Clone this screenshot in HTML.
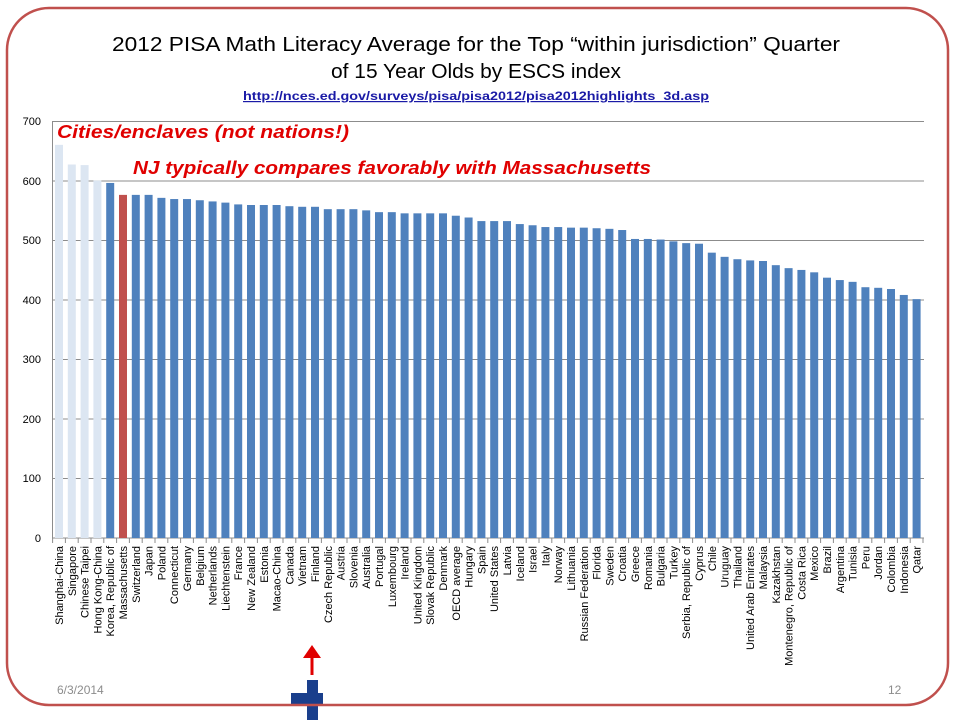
<!DOCTYPE html>
<html><head><meta charset="utf-8"><style>
html,body{margin:0;padding:0;background:#fff;}
svg{display:block;}
</style></head><body>
<svg width="960" height="720" viewBox="0 0 960 720" xmlns="http://www.w3.org/2000/svg" font-family="Liberation Sans, sans-serif">
<rect x="0" y="0" width="960" height="720" fill="#fff"/>
<!-- flag -->
<rect x="291" y="680" width="32" height="40" fill="#fff"/>
<rect x="291" y="693" width="32" height="12" fill="#1a3f8c"/>
<rect x="307" y="680" width="11" height="40" fill="#1a3f8c"/>
<!-- border -->
<rect x="7" y="8" width="941" height="697" rx="42" ry="42" fill="none" stroke="#c0504d" stroke-width="2.5"/>
<!-- title -->
<text x="476" y="51" font-size="20" text-anchor="middle" textLength="728" lengthAdjust="spacingAndGlyphs" fill="#000">2012 PISA Math Literacy Average for the Top “within jurisdiction” Quarter</text>
<text x="476" y="78" font-size="20" text-anchor="middle" textLength="290" lengthAdjust="spacingAndGlyphs" fill="#000">of 15 Year Olds by ESCS index</text>
<text x="476" y="100" font-size="12" font-weight="bold" text-anchor="middle" textLength="466" lengthAdjust="spacingAndGlyphs" fill="#1a1aa6" text-decoration="underline">http://nces.ed.gov/surveys/pisa/pisa2012/pisa2012highlights_3d.asp</text>
<!-- gridlines -->
<g stroke="#8c8c8c" stroke-width="1">
<line x1="52" y1="121.5" x2="924" y2="121.5"/>
<line x1="52" y1="181" x2="924" y2="181"/>
<line x1="52" y1="240.5" x2="924" y2="240.5"/>
<line x1="52" y1="300" x2="924" y2="300"/>
<line x1="52" y1="359.5" x2="924" y2="359.5"/>
<line x1="52" y1="419" x2="924" y2="419"/>
<line x1="52" y1="478.5" x2="924" y2="478.5"/>
<line x1="52" y1="538" x2="924" y2="538"/>
<line x1="52.5" y1="121" x2="52.5" y2="538"/>
</g>
<g font-size="11" fill="#000" text-anchor="end">
<text x="41" y="125">700</text><text x="41" y="185">600</text><text x="41" y="244">500</text><text x="41" y="304">400</text>
<text x="41" y="363">300</text><text x="41" y="423">200</text><text x="41" y="482">100</text><text x="41" y="542">0</text>
</g>
<!-- bars -->
<g transform="translate(0,538) scale(1,-0.5957)">
<g fill="#dce6f2">
<rect x="55" y="0" width="8" height="660"/>
<rect x="67.8" y="0" width="8" height="627"/>
<rect x="80.6" y="0" width="8" height="626"/>
<rect x="93.4" y="0" width="8" height="600"/>
</g>
<g fill="#4f81bd">
<rect x="106.2" y="0" width="8" height="596"/>
<rect x="119" y="0" width="8" height="576" fill="#c0504d"/>
<rect x="131.8" y="0" width="8" height="576"/>
<rect x="144.6" y="0" width="8" height="576"/>
<rect x="157.4" y="0" width="8" height="571"/>
<rect x="170.2" y="0" width="8" height="569"/>
<rect x="183" y="0" width="8" height="569"/>
<rect x="195.8" y="0" width="8" height="567"/>
<rect x="208.6" y="0" width="8" height="565"/>
<rect x="221.4" y="0" width="8" height="563"/>
<rect x="234.2" y="0" width="8" height="560"/>
<rect x="247" y="0" width="8" height="559"/>
<rect x="259.8" y="0" width="8" height="559"/>
<rect x="272.6" y="0" width="8" height="559"/>
<rect x="285.4" y="0" width="8" height="557"/>
<rect x="298.2" y="0" width="8" height="556"/>
<rect x="311" y="0" width="8" height="556"/>
<rect x="323.8" y="0" width="8" height="552"/>
<rect x="336.6" y="0" width="8" height="552"/>
<rect x="349.4" y="0" width="8" height="552"/>
<rect x="362.2" y="0" width="8" height="550"/>
<rect x="375" y="0" width="8" height="547"/>
<rect x="387.8" y="0" width="8" height="547"/>
<rect x="400.6" y="0" width="8" height="545"/>
<rect x="413.4" y="0" width="8" height="545"/>
<rect x="426.2" y="0" width="8" height="545"/>
<rect x="439" y="0" width="8" height="545"/>
<rect x="451.8" y="0" width="8" height="541"/>
<rect x="464.6" y="0" width="8" height="538"/>
<rect x="477.4" y="0" width="8" height="532"/>
<rect x="490.2" y="0" width="8" height="532"/>
<rect x="503" y="0" width="8" height="532"/>
<rect x="515.8" y="0" width="8" height="527"/>
<rect x="528.6" y="0" width="8" height="525"/>
<rect x="541.4" y="0" width="8" height="522"/>
<rect x="554.2" y="0" width="8" height="522"/>
<rect x="567" y="0" width="8" height="521"/>
<rect x="579.8" y="0" width="8" height="521"/>
<rect x="592.6" y="0" width="8" height="520"/>
<rect x="605.4" y="0" width="8" height="519"/>
<rect x="618.2" y="0" width="8" height="517"/>
<rect x="631" y="0" width="8" height="502"/>
<rect x="643.8" y="0" width="8" height="502"/>
<rect x="656.6" y="0" width="8" height="501"/>
<rect x="669.4" y="0" width="8" height="498"/>
<rect x="682.2" y="0" width="8" height="495"/>
<rect x="695" y="0" width="8" height="494"/>
<rect x="707.8" y="0" width="8" height="479"/>
<rect x="720.6" y="0" width="8" height="472"/>
<rect x="733.4" y="0" width="8" height="468"/>
<rect x="746.2" y="0" width="8" height="466"/>
<rect x="759" y="0" width="8" height="465"/>
<rect x="771.8" y="0" width="8" height="458"/>
<rect x="784.6" y="0" width="8" height="453"/>
<rect x="797.4" y="0" width="8" height="450"/>
<rect x="810.2" y="0" width="8" height="446"/>
<rect x="823" y="0" width="8" height="437"/>
<rect x="835.8" y="0" width="8" height="433"/>
<rect x="848.6" y="0" width="8" height="430"/>
<rect x="861.4" y="0" width="8" height="421"/>
<rect x="874.2" y="0" width="8" height="420"/>
<rect x="887" y="0" width="8" height="418"/>
<rect x="899.8" y="0" width="8" height="408"/>
<rect x="912.6" y="0" width="8" height="401"/>
</g>
</g>
<!-- x ticks -->
<path d="M52.6 538v5M65.4 538v5M78.2 538v5M91 538v5M103.8 538v5M116.6 538v5M129.4 538v5M142.2 538v5M155 538v5M167.8 538v5M180.6 538v5M193.4 538v5M206.2 538v5M219 538v5M231.8 538v5M244.6 538v5M257.4 538v5M270.2 538v5M283 538v5M295.8 538v5M308.6 538v5M321.4 538v5M334.2 538v5M347 538v5M359.8 538v5M372.6 538v5M385.4 538v5M398.2 538v5M411 538v5M423.8 538v5M436.6 538v5M449.4 538v5M462.2 538v5M475 538v5M487.8 538v5M500.6 538v5M513.4 538v5M526.2 538v5M539 538v5M551.8 538v5M564.6 538v5M577.4 538v5M590.2 538v5M603 538v5M615.8 538v5M628.6 538v5M641.4 538v5M654.2 538v5M667 538v5M679.8 538v5M692.6 538v5M705.4 538v5M718.2 538v5M731 538v5M743.8 538v5M756.6 538v5M769.4 538v5M782.2 538v5M795 538v5M807.8 538v5M820.6 538v5M833.4 538v5M846.2 538v5M859 538v5M871.8 538v5M884.6 538v5M897.4 538v5M910.2 538v5M923 538v5" stroke="#8c8c8c" stroke-width="1"/>
<!-- labels -->
<g font-size="11" fill="#000" text-anchor="end">
<text transform="translate(63,546) rotate(-90)">Shanghai-China</text>
<text transform="translate(75.8,546) rotate(-90)">Singapore</text>
<text transform="translate(88.6,546) rotate(-90)">Chinese Taipei</text>
<text transform="translate(101.4,546) rotate(-90)">Hong Kong-China</text>
<text transform="translate(114.2,546) rotate(-90)">Korea, Republic of</text>
<text transform="translate(127,546) rotate(-90)">Massachusetts</text>
<text transform="translate(139.8,546) rotate(-90)">Switzerland</text>
<text transform="translate(152.6,546) rotate(-90)">Japan</text>
<text transform="translate(165.4,546) rotate(-90)">Poland</text>
<text transform="translate(178.2,546) rotate(-90)">Connecticut</text>
<text transform="translate(191,546) rotate(-90)">Germany</text>
<text transform="translate(203.8,546) rotate(-90)">Belgium</text>
<text transform="translate(216.6,546) rotate(-90)">Netherlands</text>
<text transform="translate(229.4,546) rotate(-90)">Liechtenstein</text>
<text transform="translate(242.2,546) rotate(-90)">France</text>
<text transform="translate(255,546) rotate(-90)">New Zealand</text>
<text transform="translate(267.8,546) rotate(-90)">Estonia</text>
<text transform="translate(280.6,546) rotate(-90)">Macao-China</text>
<text transform="translate(293.4,546) rotate(-90)">Canada</text>
<text transform="translate(306.2,546) rotate(-90)">Vietnam</text>
<text transform="translate(319,546) rotate(-90)">Finland</text>
<text transform="translate(331.8,546) rotate(-90)">Czech Republic</text>
<text transform="translate(344.6,546) rotate(-90)">Austria</text>
<text transform="translate(357.4,546) rotate(-90)">Slovenia</text>
<text transform="translate(370.2,546) rotate(-90)">Australia</text>
<text transform="translate(383,546) rotate(-90)">Portugal</text>
<text transform="translate(395.8,546) rotate(-90)">Luxembourg</text>
<text transform="translate(408.6,546) rotate(-90)">Ireland</text>
<text transform="translate(421.4,546) rotate(-90)">United Kingdom</text>
<text transform="translate(434.2,546) rotate(-90)">Slovak Republic</text>
<text transform="translate(447,546) rotate(-90)">Denmark</text>
<text transform="translate(459.8,546) rotate(-90)">OECD average</text>
<text transform="translate(472.6,546) rotate(-90)">Hungary</text>
<text transform="translate(485.4,546) rotate(-90)">Spain</text>
<text transform="translate(498.2,546) rotate(-90)">United States</text>
<text transform="translate(511,546) rotate(-90)">Latvia</text>
<text transform="translate(523.8,546) rotate(-90)">Iceland</text>
<text transform="translate(536.6,546) rotate(-90)">Israel</text>
<text transform="translate(549.4,546) rotate(-90)">Italy</text>
<text transform="translate(562.2,546) rotate(-90)">Norway</text>
<text transform="translate(575,546) rotate(-90)">Lithuania</text>
<text transform="translate(587.8,546) rotate(-90)">Russian Federation</text>
<text transform="translate(600.6,546) rotate(-90)">Florida</text>
<text transform="translate(613.4,546) rotate(-90)">Sweden</text>
<text transform="translate(626.2,546) rotate(-90)">Croatia</text>
<text transform="translate(639,546) rotate(-90)">Greece</text>
<text transform="translate(651.8,546) rotate(-90)">Romania</text>
<text transform="translate(664.6,546) rotate(-90)">Bulgaria</text>
<text transform="translate(677.4,546) rotate(-90)">Turkey</text>
<text transform="translate(690.2,546) rotate(-90)">Serbia, Republic of</text>
<text transform="translate(703,546) rotate(-90)">Cyprus</text>
<text transform="translate(715.8,546) rotate(-90)">Chile</text>
<text transform="translate(728.6,546) rotate(-90)">Uruguay</text>
<text transform="translate(741.4,546) rotate(-90)">Thailand</text>
<text transform="translate(754.2,546) rotate(-90)">United Arab Emirates</text>
<text transform="translate(767,546) rotate(-90)">Malaysia</text>
<text transform="translate(779.8,546) rotate(-90)">Kazakhstan</text>
<text transform="translate(792.6,546) rotate(-90)">Montenegro, Republic of</text>
<text transform="translate(805.4,546) rotate(-90)">Costa Rica</text>
<text transform="translate(818.2,546) rotate(-90)">Mexico</text>
<text transform="translate(831,546) rotate(-90)">Brazil</text>
<text transform="translate(843.8,546) rotate(-90)">Argentina</text>
<text transform="translate(856.6,546) rotate(-90)">Tunisia</text>
<text transform="translate(869.4,546) rotate(-90)">Peru</text>
<text transform="translate(882.2,546) rotate(-90)">Jordan</text>
<text transform="translate(895,546) rotate(-90)">Colombia</text>
<text transform="translate(907.8,546) rotate(-90)">Indonesia</text>
<text transform="translate(920.6,546) rotate(-90)">Qatar</text>
</g>
<!-- annotations -->
<text x="57" y="138" font-size="18" font-weight="bold" font-style="italic" fill="#e00000" textLength="292" lengthAdjust="spacingAndGlyphs">Cities/enclaves (not nations!)</text>
<text x="133" y="174" font-size="18" font-weight="bold" font-style="italic" fill="#e00000" textLength="518" lengthAdjust="spacingAndGlyphs">NJ typically compares favorably with Massachusetts</text>
<!-- arrow -->
<line x1="312" y1="675" x2="312" y2="655" stroke="#e00000" stroke-width="3"/>
<polygon points="303,658 312,645 321,658" fill="#e00000"/>
<!-- footer -->
<text x="57" y="694" font-size="12" fill="#8c8c8c">6/3/2014</text>
<text x="888" y="694" font-size="12" fill="#8c8c8c">12</text>
</svg>
</body></html>
